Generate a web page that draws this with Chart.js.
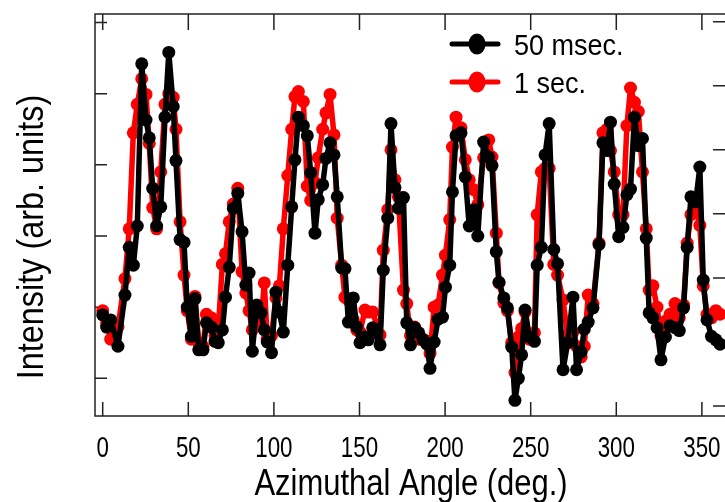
<!DOCTYPE html>
<html>
<head>
<meta charset="utf-8">
<script src="https://cdn.jsdelivr.net/npm/chart.js@4.4.0/dist/chart.umd.min.js"></script>
<style>
  html, body { margin: 0; padding: 0; background: #fff; }
  #wrap { width: 725px; height: 502px; }
</style>
</head>
<body>
<div id="wrap"><canvas id="chart" width="725" height="502"></canvas></div>
<script>
// azimuthal angle of each sample (deg.)
const angles = [
  0.0, 2.3, 4.7, 8.9, 13.0, 15.5, 17.9, 20.2, 22.8, 25.3,
  27.2, 29.2, 31.5, 33.9, 36.4, 38.6, 41.2, 42.8, 45.2, 47.5,
  49.4, 51.8, 53.9, 56.1, 58.6, 60.6, 63.4, 65.6, 67.5, 69.9,
  71.7, 73.9, 76.3, 78.9, 81.4, 83.6, 85.5, 87.4, 90.0, 92.5,
  94.4, 96.1, 98.6, 101.2, 103.2, 105.5, 108.1, 110.4, 112.3, 114.3,
  117.2, 119.5, 121.5, 124.0, 125.9, 128.5, 130.4, 132.8, 135.1, 137.0,
  139.6, 141.5, 143.5, 146.4, 148.4, 150.3, 153.2, 155.1, 157.7, 162.0,
  163.9, 166.5, 168.4, 170.7, 172.7, 175.7, 177.6, 179.8, 182.2, 184.6,
  187.1, 189.4, 191.2, 193.6, 195.9, 198.5, 200.2, 202.7, 204.3, 206.4,
  209.3, 211.8, 214.1, 216.8, 219.1, 222.5, 225.5, 227.4, 229.9, 231.5,
  234.3, 236.4, 238.9, 240.8, 242.8, 244.7, 246.7, 249.2, 252.2, 253.8,
  256.2, 258.4, 260.8, 263.5, 265.7, 268.9, 271.6, 274.7, 276.8, 279.5,
  281.3, 283.6, 286.4, 289.9, 292.2, 294.6, 296.6, 298.8, 301.4, 303.9,
  306.2, 308.3, 310.6, 312.9, 315.3, 317.5, 319.2, 321.4, 323.8, 326.1,
  328.7, 331.4, 334.3, 336.8, 339.3, 341.4, 343.6, 346.4, 348.8, 350.8,
  353.0, 355.6, 358.2, 360.6
];

// 50 msec. exposure (arb. units)
const fastSeries = [
  0.89, 0.72, 0.82, 0.45, 1.17, 1.84, 1.59, 2.14, 4.42, 3.63,
  3.38, 2.67, 2.14, 2.41, 3.67, 4.58, 3.82, 3.06, 1.95, 1.91,
  1.00, 0.59, 1.12, 0.40, 0.40, 0.78, 0.72, 0.52, 0.50, 0.68,
  1.14, 1.56, 2.39, 2.60, 2.06, 1.31, 1.48, 0.38, 1.03, 0.92,
  0.68, 0.51, 0.36, 1.21, 0.93, 0.65, 1.59, 2.41, 3.07, 3.67,
  3.55, 3.41, 2.89, 2.04, 2.51, 2.72, 3.09, 3.31, 3.14, 2.55,
  1.55, 1.54, 0.79, 1.13, 0.72, 0.50, 0.58, 0.54, 0.71, 0.47,
  1.52, 2.25, 3.58, 2.68, 2.39, 2.54, 0.78, 0.47, 0.71, 0.64,
  0.54, 0.48, 0.14, 0.51, 0.83, 0.86, 1.28, 1.59, 2.62, 3.41,
  3.45, 2.83, 2.14, 2.37, 2.00, 3.32, 3.11, 2.99, 1.78, 1.35,
  1.13, 0.99, 0.44, -0.31, 0.00, 0.33, 0.96, 0.58, 0.52, 1.59,
  1.84, 3.14, 3.58, 1.81, 1.61, 0.12, 0.50, 1.14, 0.12, 0.37,
  0.69, 0.79, 0.99, 1.88, 3.31, 3.20, 3.60, 2.73, 1.99, 2.12,
  2.58, 2.66, 3.67, 3.27, 3.37, 1.97, 0.92, 0.85, 0.71, 0.26,
  0.58, 0.74, 0.71, 0.67, 0.99, 1.84, 2.55, 2.48, 2.97, 1.38,
  0.82, 0.59, 0.54, 0.48
];

// 1 sec. exposure (arb. units)
const slowSeries = [
  0.95, 0.78, 0.55, 0.72, 1.40, 2.10, 3.45, 3.85, 4.21, 3.99,
  3.30, 2.40, 2.10, 2.90, 3.85, 4.00, 3.95, 3.50, 2.20, 1.45,
  0.95, 0.55, 1.15, 0.50, 0.45, 0.90, 0.85, 0.60, 0.70, 1.60,
  1.75, 2.20, 2.45, 2.67, 1.50, 1.20, 0.95, 0.68, 0.95, 0.80,
  1.34, 0.55, 0.60, 1.13, 1.30, 2.10, 2.85, 3.50, 3.96, 4.03,
  3.89, 2.70, 2.50, 2.75, 3.10, 3.50, 3.73, 3.99, 3.42, 2.25,
  1.59, 1.14, 1.10, 0.82, 0.68, 0.65, 0.96, 0.93, 0.93, 0.61,
  1.80, 2.37, 3.21, 2.79, 2.55, 1.24, 1.05, 0.60, 0.72, 0.55,
  0.55, 0.52, 0.35, 1.00, 1.03, 1.45, 1.73, 2.23, 3.25, 3.67,
  3.52, 3.07, 2.79, 2.65, 2.44, 3.10, 3.35, 3.11, 2.04, 1.34,
  1.06, 0.95, 0.50, 0.08, 0.58, 0.70, 0.93, 0.55, 0.64, 2.30,
  2.90, 2.95, 2.95, 1.60, 1.45, 1.10, 0.60, 0.65, 0.45, 0.30,
  0.45, 1.17, 1.05, 1.90, 3.45, 3.50, 3.20, 2.90, 2.30, 2.30,
  3.55, 4.08, 3.88, 3.75, 2.90, 2.10, 1.24, 1.30, 1.00, 0.60,
  0.80, 0.90, 1.05, 0.85, 1.03, 1.90, 2.30, 2.40, 2.15, 1.30,
  0.90, 0.85, 0.95, 0.90
];

const seriesNames = ['50 msec.', '1 sec.'];
const xTicks = [0, 50, 100, 150, 200, 250, 300, 350];
const leftTicks = [0, 1, 2, 3, 4, 5];
const rightTicks = [0, 1, 2, 3, 4, 5, 6];
const xTitle = 'Azimuthal Angle (deg.)';
const yTitle = 'Intensity (arb. units)';

const FONT = '"Liberation Sans", Arial, Helvetica, sans-serif';

function toPoints(values) {
  return values.map((v, i) => ({ x: angles[i], y: v }));
}

// text squeezed sideways, the way the original figure looks
function squeezedText(ctx, text, x, y, size, sx, align, rotate) {
  ctx.save();
  ctx.translate(x, y);
  if (rotate) ctx.rotate(-Math.PI / 2);
  ctx.scale(sx, 1);
  ctx.font = size + 'px ' + FONT;
  ctx.fillStyle = '#000';
  ctx.textAlign = align;
  ctx.textBaseline = 'alphabetic';
  ctx.fillText(text, 0, 0);
  ctx.restore();
}

// box with inward tick marks on all four sides
const framePlugin = {
  id: 'frame',
  beforeDatasetsDraw(chart) {
    const { ctx, chartArea: a, scales } = chart;
    ctx.save();
    ctx.strokeStyle = '#222';
    ctx.lineWidth = 1.5;
    ctx.beginPath();
    ctx.moveTo(a.right + 2, a.top);
    ctx.lineTo(a.left, a.top);
    ctx.lineTo(a.left, a.bottom);
    ctx.lineTo(a.right + 2, a.bottom);
    xTicks.forEach(v => {
      const px = scales.x.getPixelForValue(v);
      ctx.moveTo(px, a.bottom);
      ctx.lineTo(px, a.bottom - 14);
      ctx.moveTo(px, a.top);
      ctx.lineTo(px, a.top + 16);
    });
    leftTicks.forEach(v => {
      const py = scales.y.getPixelForValue(v);
      ctx.moveTo(a.left, py);
      ctx.lineTo(a.left + 12, py);
    });
    rightTicks.forEach(v => {
      const py = scales.y2.getPixelForValue(v);
      ctx.moveTo(a.right, py);
      ctx.lineTo(a.right - 12, py);
    });
    ctx.stroke();
    ctx.restore();
  }
};

// tick labels, axis titles and the legend
const textPlugin = {
  id: 'texts',
  afterDraw(chart) {
    const { ctx, scales } = chart;
    xTicks.forEach(v => {
      squeezedText(ctx, String(v), scales.x.getPixelForValue(v), 457, 29, 0.77, 'center', false);
    });
    squeezedText(ctx, xTitle, 411, 495, 36, 0.86, 'center', false);
    squeezedText(ctx, yTitle, 43, 237, 36, 0.9, 'center', true);

    const rowY = [44, 82];
    chart.data.datasets.forEach((ds, i) => {
      const y = rowY[i];
      ctx.save();
      ctx.strokeStyle = ds.borderColor;
      ctx.lineWidth = 5;
      ctx.lineCap = 'round';
      ctx.beginPath();
      ctx.moveTo(452, y);
      ctx.lineTo(498, y);
      ctx.stroke();
      ctx.fillStyle = ds.backgroundColor;
      ctx.beginPath();
      ctx.ellipse(477, y, 8.5, 10.5, 0, 0, Math.PI * 2);
      ctx.fill();
      ctx.restore();
      squeezedText(ctx, ds.label, 514, y + 11, 30, 0.9, 'left', false);
    });
  }
};

const ctx = document.getElementById('chart').getContext('2d');
new Chart(ctx, {
  type: 'line',
  data: {
    datasets: [
      {
        label: seriesNames[0],
        data: toPoints(fastSeries),
        borderColor: '#000000',
        backgroundColor: '#000000',
        borderWidth: 5.5,
        pointRadius: 6.5,
        pointBorderWidth: 0,
        pointBackgroundColor: '#000000',
        borderJoinStyle: 'round',
        tension: 0
      },
      {
        label: seriesNames[1],
        data: toPoints(slowSeries),
        borderColor: '#ff0000',
        backgroundColor: '#ff0000',
        borderWidth: 5.5,
        pointRadius: 6.5,
        pointBorderWidth: 0,
        pointBackgroundColor: '#ff0000',
        borderJoinStyle: 'round',
        tension: 0
      }
    ]
  },
  options: {
    responsive: false,
    animation: false,
    devicePixelRatio: 1,
    layout: { autoPadding: false, padding: { top: 14, right: 0, left: 0, bottom: 0 } },
    plugins: {
      legend: { display: false },
      tooltip: { enabled: false }
    },
    scales: {
      x: {
        type: 'linear',
        min: -4.5,
        max: 363.5,
        afterBuildTicks: s => { s.ticks = xTicks.map(v => ({ value: v })); },
        ticks: { display: false },
        grid: { display: false, drawTicks: false },
        border: { display: false },
        afterFit: s => { s.height = 86; s.paddingLeft = 0; s.paddingRight = 0; }
      },
      y: {
        position: 'left',
        min: -0.53,
        max: 5.12,
        afterBuildTicks: s => { s.ticks = leftTicks.map(v => ({ value: v })); },
        ticks: { display: false },
        grid: { display: false, drawTicks: false },
        border: { display: false },
        afterFit: s => { s.width = 95; s.paddingTop = 0; s.paddingBottom = 0; }
      },
      y2: {
        position: 'right',
        min: -0.156,
        max: 6.12,
        afterBuildTicks: s => { s.ticks = rightTicks.map(v => ({ value: v })); },
        ticks: { display: false },
        grid: { display: false, drawTicks: false },
        border: { display: false },
        afterFit: s => { s.width = 0; s.paddingTop = 0; s.paddingBottom = 0; }
      }
    }
  },
  plugins: [framePlugin, textPlugin]
});
</script>
</body>
</html>
